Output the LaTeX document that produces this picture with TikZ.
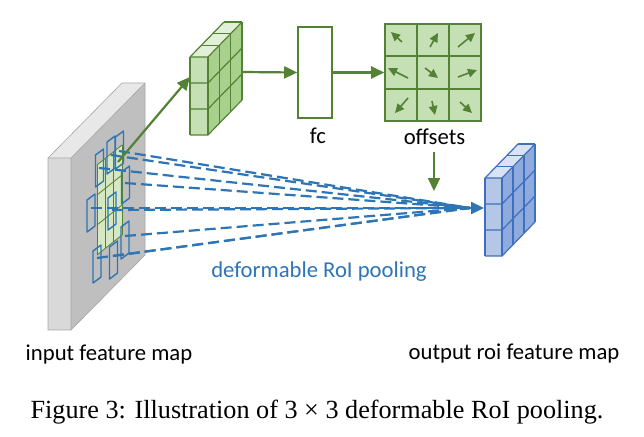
\documentclass[tikz,border=0pt]{standalone}
\usepackage{fontspec}
\setmainfont{Liberation Serif}
\newfontfamily\cali{Carlito}
\usetikzlibrary{arrows.meta,calc}
\definecolor{dkgreen}{HTML}{548235}
\definecolor{gfront}{HTML}{C5E0B4}
\definecolor{gside}{HTML}{A9D18E}
\definecolor{gtop}{HTML}{E2F0D9}
\definecolor{gslab}{HTML}{D6E8C2}
\definecolor{bline}{HTML}{3F6FBF}
\definecolor{bfront}{HTML}{B4C7E7}
\definecolor{bside}{HTML}{8FAADC}
\definecolor{btop}{HTML}{DAE3F3}
\definecolor{tblue}{HTML}{2E75B6}
\definecolor{slabtop}{HTML}{E8E8E8}
\definecolor{slabfront}{HTML}{D9D9D9}
\definecolor{slabface}{HTML}{BFBFBF}
\definecolor{slabedge}{HTML}{A6A6A6}
% #1,#2 top-left of front face; #3 width; #4 height; #5,#6 depth; #7 colour prefix; #8 line colour
\newcommand{\cubeblock}[8]{%
  \fill[#7front] (#1,#2) rectangle (#1+#3,#2+#4);
  \fill[#7side] (#1+#3,#2) -- (#1+#3+#5,#2+#6) -- (#1+#3+#5,#2+#4+#6) -- (#1+#3,#2+#4) -- cycle;
  \fill[#7top] (#1,#2) -- (#1+#3,#2) -- (#1+#3+#5,#2+#6) -- (#1+#5,#2+#6) -- cycle;
  \begin{scope}[draw=#8, line width=1.2pt, line join=round]
    \foreach \i in {0,1,2,3}{
      \draw (#1,#2+\i*#4/3) -- (#1+#3,#2+\i*#4/3) -- (#1+#3+#5,#2+\i*#4/3+#6);
    }
    \draw (#1,#2) -- (#1,#2+#4);
    \draw (#1+#3,#2) -- (#1+#3,#2+#4);
    \foreach \j in {1,2,3}{
      \draw (#1+#3+\j*#5/3,#2+\j*#6/3) -- (#1+#3+\j*#5/3,#2+\j*#6/3+#4);
      \draw (#1+\j*#5/3,#2+\j*#6/3) -- (#1+#3+\j*#5/3,#2+\j*#6/3);
    }
    \draw (#1,#2) -- (#1+#5,#2+#6);
  \end{scope}
}
\tikzset{
  lbl/.style={font=\cali\fontsize{22.7}{27}\selectfont, inner sep=0pt},
  captext/.style={font=\fontsize{26.2}{31}\selectfont, inner sep=0pt},
  garrow/.style={draw=dkgreen, line width=2.2pt, -{Triangle[length=13pt,width=12pt]}},
  smallarrow/.style={draw=dkgreen, line width=1.6pt, -{Triangle[length=9pt,width=8.5pt]}},
  barrow/.style={draw=tblue, line width=2.2pt, -{Triangle[length=13pt,width=12pt]}},
  dline/.style={draw=tblue, line width=2.2pt, dash pattern=on 11pt off 5pt},
  roirect/.style={draw=tblue, line width=1.4pt, line join=round},
  gridline/.style={draw=dkgreen, line width=0.8pt},
  fcbox/.style={draw=dkgreen, fill=white, line width=1.6pt, minimum width=34pt, minimum height=91pt, inner sep=0pt},
  offbox/.style={draw=dkgreen, fill=gfront, line width=1.6pt, minimum width=96pt, minimum height=97pt, inner sep=0pt}
}
\begin{document}
\begin{tikzpicture}[x=1pt,y=-1pt]
\useasboundingbox (0,0) rectangle (644,436);
\fill[white] (0,0) rectangle (644,436);

% input feature map slab
\fill[slabtop] (48,158) -- (71,158) -- (145,83) -- (122,83) -- cycle;
\fill[slabfront] (48,158) rectangle (71,330);
\fill[slabface] (71,158) -- (145,83) -- (145,255) -- (71,330) -- cycle;
\draw[slabedge, line width=0.6pt, line join=round] (48,158) -- (122,83) -- (145,83) -- (145,255) -- (71,330) -- (48,330) -- cycle;
\draw[slabedge, line width=0.6pt] (48,158) -- (71,158) -- (145,83) (71,158) -- (71,330);

% green RoI grid on the slab
\fill[gslab] (97,165) -- (122,145) -- (122,235) -- (97,255) -- cycle;
\foreach \i in {0,1,2,3}{
  \draw[gridline] (97+25*\i/3,165-20*\i/3) -- (97+25*\i/3,255-20*\i/3);
  \draw[gridline] (97,165+30*\i) -- (122,145+30*\i);
}

% deformed bins
\foreach \n/\cx/\cy/\sx/\sy in {1/99.5/168/99/168, 2/111/155/111/155, 3/119.5/150/119/151,
  4/125.5/185/125/183, 5/91/213/91/208, 6/112/211/112/210, 7/125/240/125/236,
  8/97/264/97/258, 9/113.5/260/113/256}{
  \draw[roirect] (\cx-4,\cy-13) -- (\cx+4,\cy-19) -- (\cx+4,\cy+13) -- (\cx-4,\cy+19) -- cycle;
  \coordinate (r\n) at (\sx,\sy);
}

% pooling lines
\coordinate (conv) at (470,208);
\coordinate (btip) at (484,208);
\foreach \n in {1,...,9}{
  \draw[dline] (r\n) -- (conv);
}

% green arrow to the small cube
\coordinate (gstart) at (118,162);
\coordinate (gend) at (190,77);
\draw[garrow] (gstart) -- (gend);

% green cube
\cubeblock{190}{57}{18}{78}{34}{-35}{g}{dkgreen}
\coordinate (gcube) at (242,72);

% fc
\node[fcbox] (fc) at (315,72.5) {};
\node[lbl, anchor=base] (fclbl) at (318,143) {fc};

% offsets
\node[offbox] (offs) at (433,72.5) {};
\foreach \t in {1,2}{
  \draw[dkgreen, line width=1.6pt] ($(offs.north west)!\t/3!(offs.north east)$) -- ($(offs.south west)!\t/3!(offs.south east)$);
  \draw[dkgreen, line width=1.6pt] ($(offs.north west)!\t/3!(offs.south west)$) -- ($(offs.north east)!\t/3!(offs.south east)$);
}
\foreach \cx/\cy/\a/\b/\c/\d in {401/40/1/2/-10/-8, 433/40/-3/7/5/-7, 465/40/-7/7/10/-7,
  401/72/7/6/-13/-4, 433/72/-8/-4/5/6, 465/72/-7/5/12/-2,
  401/104/7/-6/-6/9, 433/104/-1/-3/2/11, 465/104/-5/-2/7/9}{
  \draw[smallarrow] (\cx+\a,\cy+\b) -- (\cx+\c,\cy+\d);
}
\node[lbl, anchor=base] (offlbl) at (434.5,144) {offsets};

\draw[garrow] (gcube) -- (fc.west);
\draw[garrow] (fc.east) -- (offs.west);
\coordinate (odown) at (434,152);
\coordinate (oend) at (434,191);
\draw[garrow] (odown) -- (oend);

% blue cube
\cubeblock{485}{178}{17}{78}{33}{-34}{b}{bline}
\draw[barrow] (conv) -- (btip);

% labels
\node[lbl, text=tblue, anchor=base] (dlbl) at (319,277) {deformable RoI pooling};
\node[lbl, anchor=base] (inlbl) at (109,360) {input feature map};
\node[lbl, anchor=base] (outlbl) at (514,359) {output roi feature map};
\node[captext, anchor=base] (caption) at (317,418) {Figure 3: Illustration of 3 × 3 deformable RoI pooling.};
\end{tikzpicture}
\end{document}
